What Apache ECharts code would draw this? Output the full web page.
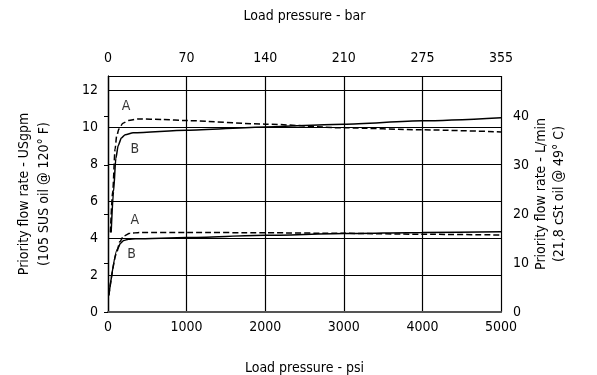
<!DOCTYPE html>
<html><head><meta charset="utf-8">
<script src="https://cdn.jsdelivr.net/npm/echarts@6/dist/echarts.min.js"></script>
<style>html,body{margin:0;padding:0;background:#fff}#c{width:597px;height:375px}</style>
</head><body><div id="c"></div>
<script>
// Data: [psi, USgpm]
const upperA = [[30,4.3],[60,6.5],[90,8.8],[110,9.5],[140,9.9],[190,10.2],[260,10.35],[380,10.43],[700,10.4],[1000,10.34],[2000,10.15],[3000,9.95],[4000,9.84],[5000,9.73]];
const upperB = [[40,4.3],[70,6.5],[100,8.3],[130,9.0],[170,9.4],[220,9.58],[320,9.68],[1000,9.82],[2000,10.0],[3000,10.15],[4000,10.33],[5000,10.5]];
const lowerA = [[10,0.9],[110,3.2],[150,3.8],[200,4.1],[280,4.25],[400,4.3],[1000,4.3],[2000,4.28],[3000,4.25],[4000,4.2],[5000,4.16]];
const lowerB = [[10,0.9],[120,3.4],[160,3.72],[200,3.86],[260,3.93],[350,3.96],[1000,4.02],[2000,4.14],[3000,4.24],[4000,4.3],[5000,4.34]];
const curveLabels = [[230,11.1,'A'],[340,8.76,'B'],[340,4.97,'A'],[300,3.14,'B']];
const psiTicks = [0,1000,2000,3000,4000,5000];
const barTicks = ['0','70','140','210','275','355'];
const gpmMax = 12.75;
const lpmPerGpm = 3.785;

const FONT = '"DejaVu Sans Condensed","DejaVu Sans",sans-serif';
const txt = {fontFamily: FONT, fontSize: 14, fontWeight: 'condensed', color: '#000'};
const chart = echarts.init(document.getElementById('c'), null, {renderer: 'canvas'});

function lineSeries(data, dashed) {
  return {
    type: 'line', data: data, xAxisIndex: 0, yAxisIndex: 0,
    showSymbol: false, smooth: 0.25, smoothMonotone: 'x', silent: true,
    lineStyle: {color: '#000', width: 1.5, type: dashed ? [6, 3] : 'solid'}
  };
}

chart.setOption({
  animation: false,
  grid: {left: 108, right: 96, top: 76, bottom: 63, containLabel: false, outerBoundsMode: 'none'},
  xAxis: [
    {type: 'value', position: 'bottom', min: 0, max: 5000, interval: 1000,
     name: 'Load pressure - psi', nameLocation: 'middle', nameGap: 49, nameTextStyle: txt,
     axisLine: {show: true, lineStyle: {color: '#000', width: 1.2}},
     axisTick: {show: false},
     axisLabel: Object.assign({margin: 8, formatter: v => String(v)}, txt),
     splitLine: {show: true, lineStyle: {color: '#000', width: 1.2}}},
    {type: 'value', position: 'top', min: 0, max: 5000, interval: 1000,
     name: 'Load pressure - bar', nameLocation: 'middle', nameGap: 53, nameTextStyle: txt,
     axisLine: {show: true, lineStyle: {color: '#555', width: 2}},
     axisTick: {show: false},
     axisLabel: Object.assign({margin: 11, formatter: v => barTicks[psiTicks.indexOf(v)] ?? ''}, txt),
     splitLine: {show: false}}
  ],
  yAxis: [
    {type: 'value', position: 'left', min: 0, max: gpmMax, interval: 2,
     name: 'Priority flow rate - USgpm\n(105 SUS oil @ 120° F)', nameLocation: 'middle', nameRotate: 90, nameGap: 54,
     nameTextStyle: Object.assign({lineHeight: 20}, txt),
     axisLine: {show: true, lineStyle: {color: '#000', width: 1.2}},
     axisTick: {show: false},
     axisLabel: Object.assign({margin: 10, showMaxLabel: false, formatter: v => (v % 2 === 0 ? String(v) : '')}, txt),
     splitLine: {show: true, lineStyle: {color: '#000', width: 1.2}}},
    {type: 'value', position: 'right', min: 0, max: gpmMax * lpmPerGpm, interval: 10,
     name: 'Priority flow rate - L/min\n(21,8 cSt oil @ 49° C)', nameLocation: 'middle', nameRotate: 90, nameGap: 31,
     nameMoveOverlap: false,
     nameTextStyle: Object.assign({lineHeight: 18}, txt),
     axisLine: {show: true, lineStyle: {color: '#000', width: 1.2}},
     axisTick: {show: true, inside: true, length: 4, lineStyle: {color: '#000'}},
     axisLabel: Object.assign({margin: 12, showMaxLabel: false, formatter: v => (v % 10 === 0 ? String(v) : '')}, txt),
     splitLine: {show: false}}
  ],
  series: [
    lineSeries(upperA, true),
    lineSeries(upperB, false),
    lineSeries(lowerA, true),
    lineSeries(lowerB, false),
    {type: 'scatter', symbolSize: 0, silent: true,
     data: curveLabels.map(d => ({value: [d[0], d[1]], label: {show: true, formatter: d[2], position: 'inside'}})),
     label: Object.assign({}, txt)}
  ]
});
</script></body></html>
